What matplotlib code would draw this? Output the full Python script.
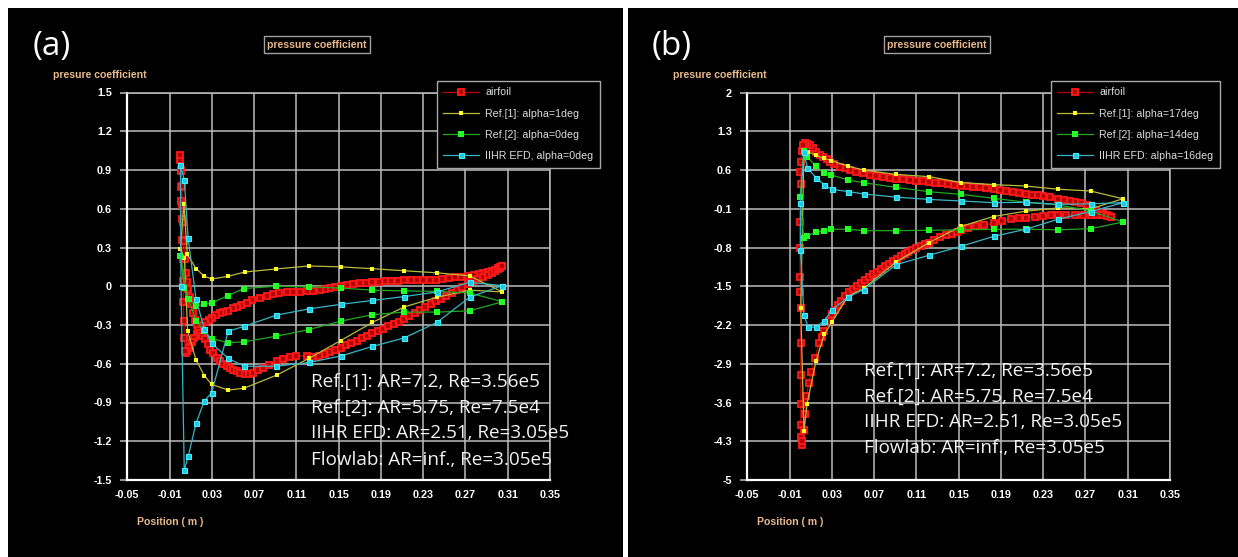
import matplotlib
matplotlib.use('Agg')
import matplotlib.pyplot as plt
from matplotlib.patches import Rectangle

# ---------------- data: panel (a), alpha ~ 0 deg ----------------
# Flowlab airfoil Cp, two branches from the leading edge to the trailing edge
foil_a1_x = [0.0, 0.0001, 0.0004, 0.0008, 0.0012, 0.0016, 0.0020, 0.0024, 0.0027, 0.0030,
             0.0035, 0.0040, 0.0048, 0.0053, 0.0065, 0.0080, 0.0093, 0.011, 0.013, 0.0156,
             0.018, 0.021, 0.024, 0.027, 0.030, 0.034, 0.038, 0.041, 0.045, 0.050,
             0.054, 0.058, 0.063, 0.068, 0.0755, 0.082, 0.088, 0.094, 0.1007, 0.107,
             0.1133, 0.120, 0.126, 0.132, 0.137, 0.142, 0.147, 0.152, 0.158, 0.164,
             0.170, 0.176, 0.182, 0.188, 0.194, 0.200, 0.206, 0.212, 0.218, 0.224,
             0.230, 0.236, 0.242, 0.248, 0.254, 0.260, 0.266, 0.272, 0.278, 0.283,
             0.287, 0.291, 0.295, 0.298, 0.301, 0.303, 0.305]
foil_a1_y = [1.02, 0.98, 0.89, 0.77, 0.66, 0.52, 0.36, 0.21, 0.04, -0.12,
             -0.27, -0.40, -0.50, -0.52, -0.50, -0.48, -0.46, -0.43, -0.40, -0.37,
             -0.34, -0.31, -0.28, -0.26, -0.245, -0.225, -0.21, -0.20, -0.19, -0.172,
             -0.16, -0.145, -0.128, -0.11, -0.09, -0.072, -0.059, -0.05, -0.043, -0.043,
             -0.043, -0.04, -0.035, -0.027, -0.02, -0.012, -0.004, 0.005, 0.012, 0.018,
             0.023, 0.028, 0.033, 0.036, 0.039, 0.042, 0.044, 0.046, 0.047, 0.047,
             0.048, 0.049, 0.052, 0.056, 0.062, 0.068, 0.074, 0.080, 0.087, 0.094,
             0.100, 0.108, 0.118, 0.128, 0.138, 0.148, 0.158]
foil_a2_x = [0.0, 0.0008, 0.0015, 0.0022, 0.0030, 0.0038, 0.0046, 0.0055, 0.0065, 0.0077,
             0.0090, 0.0105, 0.0125, 0.014, 0.0155, 0.017, 0.019, 0.021, 0.0235, 0.026,
             0.028, 0.031, 0.0345, 0.038, 0.041, 0.044, 0.047, 0.050, 0.0535, 0.057,
             0.0613, 0.065, 0.069, 0.074, 0.0786, 0.084, 0.0913, 0.097, 0.1039, 0.110,
             0.1196, 0.125, 0.131, 0.137, 0.142, 0.147, 0.152, 0.157, 0.162, 0.167,
             0.172, 0.177, 0.182, 0.187, 0.192, 0.197, 0.202, 0.207, 0.212, 0.217,
             0.222, 0.227, 0.232, 0.237, 0.242, 0.247, 0.252, 0.257, 0.262, 0.267,
             0.272, 0.277, 0.282, 0.287, 0.291, 0.295, 0.298, 0.301, 0.303, 0.305]
foil_a2_y = [1.02, 0.90, 0.78, 0.63, 0.50, 0.35, 0.21, 0.10, 0.03, -0.025,
             -0.08, -0.14, -0.21, -0.26, -0.30, -0.335, -0.36, -0.385, -0.412, -0.45,
             -0.49, -0.52, -0.554, -0.58, -0.60, -0.619, -0.632, -0.645, -0.657, -0.67,
             -0.683, -0.683, -0.67, -0.65, -0.631, -0.61, -0.58, -0.565, -0.546, -0.54,
             -0.541, -0.545, -0.54, -0.525, -0.508, -0.49, -0.475, -0.458, -0.44, -0.42,
             -0.40, -0.383, -0.365, -0.348, -0.33, -0.31, -0.293, -0.275, -0.256, -0.233,
             -0.21, -0.186, -0.163, -0.14, -0.118, -0.095, -0.073, -0.05, -0.027, -0.004,
             0.02, 0.04, 0.058, 0.075, 0.088, 0.10, 0.116, 0.13, 0.145, 0.158]

# Ref.[1], alpha = 1 deg
ref1_a_x = [0.305, 0.274, 0.243, 0.212, 0.182, 0.152, 0.122, 0.091, 0.061, 0.0455,
            0.030, 0.023, 0.015, 0.0067, 0.0036, 0.0003, 0.0040, 0.0071, 0.015, 0.0228,
            0.0298, 0.0455, 0.0606, 0.0913, 0.1218, 0.152, 0.182, 0.212, 0.243, 0.274, 0.305]
ref1_a_y = [-0.044, 0.08, 0.104, 0.12, 0.136, 0.15, 0.157, 0.134, 0.11, 0.077,
            0.056, 0.077, 0.137, 0.25, 0.64, 0.29, 0.22, -0.348, -0.569, -0.691,
            -0.76, -0.804, -0.789, -0.688, -0.559, -0.42, -0.28, -0.16, -0.085, -0.03, -0.044]

# Ref.[2], alpha = 0 deg
ref2_a_x = [0.305, 0.274, 0.243, 0.212, 0.182, 0.152, 0.122, 0.091, 0.060, 0.0455,
            0.030, 0.023, 0.015, 0.0077, 0.0001, 0.004, 0.008, 0.015, 0.023, 0.030,
            0.0455, 0.0606, 0.091, 0.122, 0.152, 0.182, 0.212, 0.243, 0.274, 0.305]
ref2_a_y = [-0.12, -0.052, -0.04, -0.036, -0.03, -0.014, -0.005, 0.0, -0.018, -0.072,
            -0.128, -0.14, -0.155, -0.095, 0.237, -0.01, -0.10, -0.27, -0.348, -0.405,
            -0.438, -0.43, -0.387, -0.335, -0.27, -0.22, -0.20, -0.20, -0.19, -0.12]

# IIHR EFD, alpha = 0 deg
iihr_a_x = [0.305, 0.274, 0.243, 0.212, 0.182, 0.152, 0.122, 0.091, 0.0606, 0.0455,
            0.030, 0.0228, 0.015, 0.0075, 0.004, 0.0003, 0.0008, 0.0039, 0.0077, 0.015,
            0.0228, 0.0298, 0.0455, 0.0606, 0.091, 0.122, 0.152, 0.182, 0.212, 0.243,
            0.274, 0.305]
iihr_a_y = [0.005, -0.085, -0.28, -0.40, -0.466, -0.54, -0.59, -0.619, -0.619, -0.559,
            -0.443, -0.33, -0.095, 0.375, 0.82, 0.94, 0.005, -1.425, -1.315, -1.062,
            -0.889, -0.825, -0.348, -0.31, -0.224, -0.175, -0.14, -0.11, -0.08, -0.044,
            0.03, 0.005]

# ---------------- data: panel (b), high alpha ----------------
foil_b1_x = [0.0030, 0.0044, 0.0065, 0.009, 0.012, 0.0154, 0.0185, 0.0217, 0.025, 0.028,
             0.0325, 0.0375, 0.042, 0.047, 0.053, 0.0595, 0.066, 0.072, 0.078, 0.0848,
             0.091, 0.0974, 0.104, 0.110, 0.116, 0.122, 0.128, 0.134, 0.140, 0.146,
             0.152, 0.158, 0.164, 0.170, 0.176, 0.183, 0.189, 0.195, 0.201, 0.207,
             0.2135, 0.219, 0.225, 0.230, 0.236, 0.244, 0.250, 0.255, 0.260, 0.266,
             0.271, 0.276, 0.280, 0.283, 0.287, 0.290, 0.292, 0.294]
foil_b1_y = [1.06, 1.08, 1.07, 1.05, 0.99, 0.93, 0.88, 0.83, 0.79, 0.75,
             0.70, 0.66, 0.63, 0.60, 0.57, 0.54, 0.517, 0.497, 0.478, 0.46,
             0.445, 0.43, 0.42, 0.41, 0.397, 0.384, 0.37, 0.357, 0.345, 0.333,
             0.32, 0.31, 0.30, 0.288, 0.275, 0.25, 0.235, 0.22, 0.205, 0.188,
             0.17, 0.155, 0.14, 0.125, 0.11, 0.08, 0.06, 0.045, 0.03, 0.005,
             -0.035, -0.075, -0.12, -0.16, -0.19, -0.215, -0.23, -0.25]
foil_b2_x = [0.0030, 0.0015, 0.0006, 0.0003, 0.0006, 0.0, 0.0, 0.0, 0.0003, 0.0006,
             0.0006, 0.0006, 0.0006, 0.0006, 0.0008, 0.0013, 0.0022, 0.0033, 0.0044, 0.006,
             0.008, 0.0107, 0.0144, 0.018, 0.0205, 0.0228, 0.027, 0.030, 0.033, 0.036,
             0.039, 0.0425, 0.0464, 0.050, 0.054, 0.058, 0.0613, 0.065, 0.069, 0.0727,
             0.0764, 0.080, 0.084, 0.0876, 0.0913, 0.095, 0.0988, 0.1025, 0.106, 0.110,
             0.114, 0.118, 0.122, 0.127, 0.1325, 0.138, 0.1438, 0.148, 0.152, 0.159,
             0.166, 0.174, 0.183, 0.191, 0.200, 0.207, 0.2135, 0.222, 0.230, 0.237,
             0.244, 0.252, 0.260, 0.268, 0.275, 0.281, 0.286, 0.290, 0.294]
foil_b2_y = [1.06, 0.95, 0.75, 0.57, 0.34, -0.34, -0.81, -1.34, -1.60, -1.89,
             -2.53, -3.11, -3.62, -4.00, -4.23, -4.36, -4.30, -4.10, -3.81, -3.49,
             -3.24, -3.04, -2.79, -2.53, -2.42, -2.31, -2.12, -2.00, -1.92, -1.84,
             -1.76, -1.68, -1.60, -1.545, -1.49, -1.435, -1.38, -1.33, -1.28, -1.235,
             -1.19, -1.14, -1.09, -1.045, -1.00, -0.96, -0.92, -0.88, -0.84, -0.805,
             -0.77, -0.74, -0.71, -0.66, -0.61, -0.58, -0.55, -0.515, -0.48, -0.45,
             -0.42, -0.39, -0.36, -0.325, -0.29, -0.275, -0.26, -0.245, -0.23, -0.22,
             -0.21, -0.21, -0.21, -0.21, -0.21, -0.212, -0.215, -0.225, -0.245]

# Ref.[1], alpha = 17 deg
ref1_b_x = [0.3055, 0.275, 0.244, 0.2135, 0.183, 0.152, 0.122, 0.091, 0.060, 0.0453,
            0.0296, 0.0226, 0.0148, 0.0075, 0.0036, 0.0006, 0.0036, 0.0066, 0.015, 0.0228,
            0.030, 0.045, 0.060, 0.091, 0.122, 0.152, 0.183, 0.2135, 0.244, 0.275, 0.3055]
ref1_b_y = [0.08, 0.22, 0.253, 0.31, 0.336, 0.374, 0.48, 0.52, 0.60, 0.67,
            0.77, 0.81, 0.87, 0.93, 0.957, -1.89, -4.12, -3.62, -2.85, -2.37,
            -2.15, -1.69, -1.54, -1.06, -0.71, -0.42, -0.24, -0.144, -0.086, -0.10, 0.08]

# Ref.[2], alpha = 14 deg
ref2_b_x = [0.3055, 0.275, 0.244, 0.2135, 0.183, 0.152, 0.122, 0.0904, 0.060, 0.0453,
            0.0296, 0.0226, 0.0148, 0.0066, 0.0034, 0.0, 0.0034, 0.0066, 0.0148, 0.0226,
            0.0296, 0.0453, 0.060, 0.0904, 0.122, 0.152, 0.183, 0.2135, 0.244, 0.275, 0.3055]
ref2_b_y = [-0.34, -0.14, -0.03, 0.016, 0.09, 0.16, 0.208, 0.288, 0.37, 0.42,
            0.51, 0.551, 0.672, 0.84, 0.949, 0.107, -0.634, -0.59, -0.525, -0.50,
            -0.47, -0.47, -0.496, -0.496, -0.49, -0.48, -0.47, -0.47, -0.48, -0.46, -0.34]

# IIHR EFD, alpha = 16 deg
iihr_b_x = [0.3055, 0.275, 0.244, 0.2135, 0.183, 0.152, 0.121, 0.091, 0.0605, 0.0457,
            0.030, 0.023, 0.015, 0.0069, 0.0034, 0.0003, 0.0003, 0.0036, 0.0077, 0.015,
            0.0228, 0.030, 0.045, 0.060, 0.091, 0.122, 0.152, 0.183, 0.2135, 0.244,
            0.275, 0.3055]
iihr_b_y = [0.01, -0.01, -0.02, 0.016, 0.01, 0.04, 0.07, 0.11, 0.166, 0.21,
            0.25, 0.33, 0.46, 0.64, 0.92, 0.0, -0.845, -2.02, -2.24, -2.24,
            -2.12, -1.93, -1.70, -1.56, -1.11, -0.94, -0.78, -0.60, -0.47, -0.29,
            -0.15, 0.01]

x_ticks = [-0.05, -0.01, 0.03, 0.07, 0.11, 0.15, 0.19, 0.23, 0.27, 0.31, 0.35]
x_labels = ['-0.05', '-0.01', '0.03', '0.07', '0.11', '0.15', '0.19', '0.23', '0.27', '0.31', '0.35']
y_ticks_a = [-1.5, -1.2, -0.9, -0.6, -0.3, 0, 0.3, 0.6, 0.9, 1.2, 1.5]
y_labels_a = ['-1.5', '-1.2', '-0.9', '-0.6', '-0.3', '0', '0.3', '0.6', '0.9', '1.2', '1.5']
y_ticks_b = [-5, -4.3, -3.6, -2.9, -2.2, -1.5, -0.8, -0.1, 0.6, 1.3, 2]
y_labels_b = ['-5', '-4.3', '-3.6', '-2.9', '-2.2', '-1.5', '-0.8', '-0.1', '0.6', '1.3', '2']

legend_a = ['airfoil', 'Ref.[1]: alpha=1deg', 'Ref.[2]: alpha=0deg', 'IIHR EFD, alpha=0deg']
legend_b = ['airfoil', 'Ref.[1]: alpha=17deg', 'Ref.[2]: alpha=14deg', 'IIHR EFD: alpha=16deg']
notes = ['Ref.[1]: AR=7.2, Re=3.56e5', 'Ref.[2]: AR=5.75, Re=7.5e4',
         'IIHR EFD: AR=2.51, Re=3.05e5', 'Flowlab: AR=inf., Re=3.05e5']

plt.rcParams['font.family'] = ['Liberation Sans', 'DejaVu Sans']

W, H = 1238, 557
fig = plt.figure(figsize=(W / 100, H / 100), dpi=100, facecolor='white')
TAN = '#e9b98a'
GRID = '#bcbcbc'


def fx(px):
    return px / W


def fy(py):
    return 1 - py / H


def panel(x0, x1, tag, ytk, ylb, ylim, foil1, foil2, ref1, ref2, iihr, labels,
          note_xy, note_dy, leg_left):
    fig.add_artist(Rectangle((fx(x0), 0), fx(x1) - fx(x0), fy(8), transform=fig.transFigure,
                             facecolor='black', edgecolor='none', zorder=0))
    left = x0 + 119.3
    ax = fig.add_axes([fx(left), fy(480), (550 - 127.3) / W, (480 - 92.5) / H])
    ax.set_facecolor('black')
    ax.set_xlim(-0.05, 0.35)
    ax.set_ylim(*ylim)
    ax.set_xticks(x_ticks)
    ax.set_xticklabels(x_labels, fontweight='bold')
    ax.set_yticks(ytk)
    ax.set_yticklabels(ylb, fontweight='bold')
    ax.grid(True, color=GRID, lw=1.1)
    ax.set_axisbelow(True)
    for s in ['left', 'bottom']:
        ax.spines[s].set_color('white')
        ax.spines[s].set_linewidth(1.6)
    for s in ['top', 'right']:
        ax.spines[s].set_color(GRID)
        ax.spines[s].set_linewidth(1.1)
    ax.tick_params(axis='y', colors=GRID, labelcolor='white', length=5, width=1.1,
                   labelsize=7.8, pad=6)
    ax.tick_params(axis='x', colors=GRID, labelcolor='white', length=0,
                   labelsize=7.8, pad=7)

    fx1, fy1 = foil1
    fx2, fy2 = foil2
    foil_x = fx1[::-1] + fx2[1:]
    foil_y = fy1[::-1] + fy2[1:]
    ax.plot(foil_x, foil_y, color='#b00000', lw=1.0, marker='s', ms=4.5, mew=1.3,
            mfc='#b40000', mec='#ff1a1a', label=labels[0], zorder=3)
    ax.plot(*ref1, color='#b9b93c', lw=0.9, marker='s', ms=2.8, mew=0,
            mfc='#ffff20', label=labels[1], zorder=4)
    ax.plot(*ref2, color='#22a822', lw=0.9, marker='s', ms=4.2, mew=0,
            mfc='#22ff22', label=labels[2], zorder=4)
    ax.plot(*iihr, color='#35b5c5', lw=0.9, marker='s', ms=3.6, mew=0.8,
            mfc='#20c8e0', mec='#40f0ff', label=labels[3], zorder=4)

    # stacked notes about aspect ratio and Reynolds number
    for i, t in enumerate(notes):
        ax.text(note_xy[0], note_xy[1] - i * note_dy, t, color='#f2f2f2', fontsize=13.6,
                family=['Open Sans', 'DejaVu Sans'], va='center', ha='left', clip_on=False,
                zorder=6)

    leg = ax.legend(loc='upper left', bbox_to_anchor=(fx(x0 + leg_left), fy(81)),
                    bbox_transform=fig.transFigure, borderaxespad=0, fancybox=False,
                    facecolor='black', edgecolor='#a8a8a8', framealpha=1, fontsize=7.7,
                    labelcolor='#dcdcdc', handlelength=3.3, handletextpad=0.6,
                    labelspacing=1.05, borderpad=0.6)
    leg.get_frame().set_linewidth(1.0)
    leg.set_zorder(7)

    fig.text(fx(x0 + 44), fy(47), tag, color='white', fontsize=24,
             family=['Open Sans', 'DejaVu Sans'], ha='center', va='center')
    fig.text(fx(x0 + 309), fy(44.5), 'pressure coefficient', color=TAN, fontsize=7.6,
             fontweight='bold', ha='center', va='center',
             bbox=dict(boxstyle='square,pad=0.3', fc='black', ec='#a0a0a0', lw=1.0))
    fig.text(fx(x0 + 45), fy(75), 'presure coefficient', color=TAN, fontsize=7.6,
             fontweight='bold', ha='left', va='center')
    fig.text(fx(x0 + 129), fy(522), 'Position ( m )', color=TAN, fontsize=7.6,
             fontweight='bold', ha='left', va='center')
    return ax


panel(8, 623, '(a)', y_ticks_a, y_labels_a, (-1.5, 1.5),
      (foil_a1_x, foil_a1_y), (foil_a2_x, foil_a2_y),
      (ref1_a_x, ref1_a_y), (ref2_a_x, ref2_a_y), (iihr_a_x, iihr_a_y),
      legend_a, (0.124, -0.736), 0.202, 429)
panel(628, 1238, '(b)', y_ticks_b, y_labels_b, (-5, 2),
      (foil_b1_x, foil_b1_y), (foil_b2_x, foil_b2_y),
      (ref1_b_x, ref1_b_y), (ref2_b_x, ref2_b_y), (iihr_b_x, iihr_b_y),
      legend_b, (0.060, -3.02), 0.47, 423)

fig.savefig('out.png', dpi=100, facecolor='white')
